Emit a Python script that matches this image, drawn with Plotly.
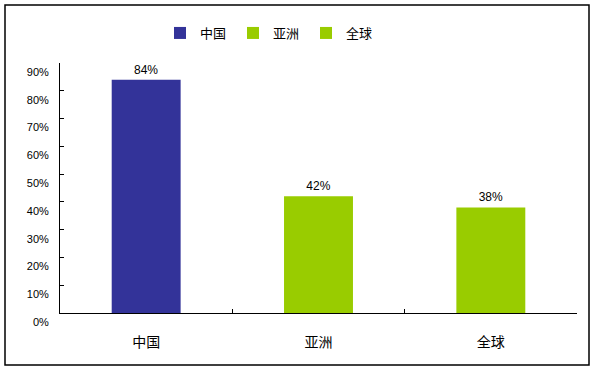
import plotly.graph_objects as go

categories = ["中国", "亚洲", "全球"]
values = [0.84, 0.42, 0.38]
colors = ["#333399", "#99CC00", "#99CC00"]
y_ticks = [0, 0.1, 0.2, 0.3, 0.4, 0.5, 0.6, 0.7, 0.8, 0.9]

W, H = 595, 371
L, R, T, B = 60, 18, 63, 58
pw, ph = W - L - R, H - T - B

fig = go.Figure()
for c, v, col in zip(categories, values, colors):
    fig.add_trace(go.Bar(
        x=[c], y=[v], name=c, marker=dict(color=col, line=dict(width=0)),
        width=0.4, text=[f"{round(v*100)}%"], textposition="outside",
        textfont=dict(family="Liberation Sans, Arial", size=12, color="black"),
        cliponaxis=False,
    ))

def px_x(p):
    return (p - L) / pw

def px_y(p):
    return (H - B - p) / ph

fig.update_layout(
    width=W, height=H,
    margin=dict(l=L, r=R, t=T, b=B, autoexpand=False),
    paper_bgcolor="white", plot_bgcolor="white",
    barmode="overlay",
    showlegend=True,
    legend=dict(orientation="h", x=px_x(160), xanchor="left", y=px_y(33), yanchor="middle",
                font=dict(family="Noto Sans CJK SC", size=13, color="black"),
                itemwidth=30, entrywidth=28, tracegroupgap=0, traceorder="normal"),
    xaxis=dict(type="category", categoryorder="array", categoryarray=categories,
               showline=True, linecolor="black", linewidth=1,
               ticks="inside", ticklen=4, tickcolor="black", tickson="boundaries",
               showgrid=False, ticklabelstandoff=16,
               tickfont=dict(family="Noto Sans CJK SC", size=14, color="black")),
    yaxis=dict(range=[0, 0.9], tickvals=y_ticks, tickformat=".0%",
               showline=True, linecolor="black", linewidth=1,
               ticks="inside", ticklen=4, tickcolor="black",
               showgrid=False, zeroline=False, ticklabelshift=9, ticklabelstandoff=8,
               tickfont=dict(family="Liberation Sans, Arial", size=11, color="black")),
    shapes=[dict(type="rect", xref="paper", yref="paper",
                 x0=px_x(5), x1=px_x(589), y0=px_y(365), y1=px_y(5),
                 line=dict(color="black", width=1.5), layer="below")],
    bargap=0.6,
)

fig.write_html("out.html", config={"displayModeBar": False},
               post_script="document.body.style.margin='0';document.body.style.overflow='hidden';")
